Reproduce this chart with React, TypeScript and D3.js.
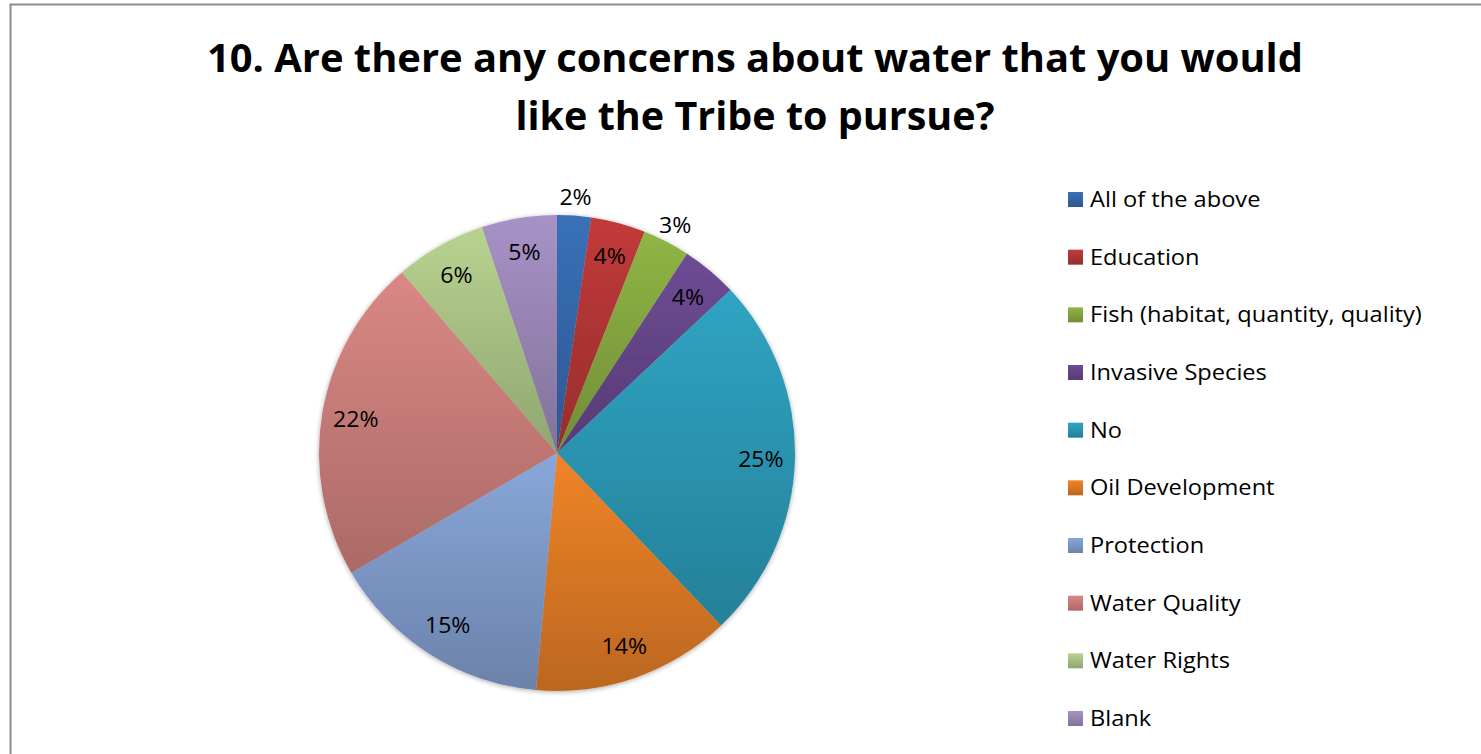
import React from "react";
import * as d3 from "d3";

const categories = [
  "All of the above",
  "Education",
  "Fish (habitat, quantity, quality)",
  "Invasive Species",
  "No",
  "Oil Development",
  "Protection",
  "Water Quality",
  "Water Rights",
  "Blank",
];
const shares = [2.3, 3.7, 3.2, 3.8, 24.9, 13.5, 15.2, 22.1, 6.2, 5.1];
const labels = ["2%", "4%", "3%", "4%", "25%", "14%", "15%", "22%", "6%", "5%"];
const colors = [
  "#3a70b8",
  "#c23a3a",
  "#90b545",
  "#6e4c95",
  "#2fa4c3",
  "#f08428",
  "#89a7da",
  "#da8884",
  "#b8d390",
  "#a792c6",
];
const outsideLabels = ["All of the above", "Fish (habitat, quantity, quality)"];
const titleLines = [
  "10. Are there any concerns about water that you would",
  "like the Tribe to pursue?",
];

const W = 1481;
const H = 754;
const CX = 557;
const CY = 453;
const R = 238;
const FONT = "'Open Sans', Lato, sans-serif";

function darken(c: string, k: number) {
  const col = d3.rgb(c);
  return d3.rgb(col.r * k, col.g * k, col.b * k).formatHex();
}

export default function App() {
  const pie = d3.pie<number>().sort(null).value((d) => d);
  const arcs = pie(shares);
  const arc = d3.arc<d3.PieArcDatum<number>>().innerRadius(0).outerRadius(R);
  const inArc = d3.arc<d3.PieArcDatum<number>>().innerRadius(204).outerRadius(204);
  const outArc = d3.arc<d3.PieArcDatum<number>>().innerRadius(257).outerRadius(257);

  const legendY = d3
    .scalePoint<string>()
    .domain(categories)
    .range([199.5, 718.5]);

  return (
    <svg
      width={W}
      height={H}
      style={{ position: "absolute", left: 0, top: 0, background: "#fff" }}
    >
      <defs>
        {colors.map((c, i) => (
          <linearGradient key={i} id={`g${i}`} x1="0" y1="0" x2="0" y2="1">
            <stop offset="0" stopColor={c} />
            <stop offset="1" stopColor={darken(c, 0.78)} />
          </linearGradient>
        ))}
        <filter id="shadow" x="-20%" y="-20%" width="140%" height="140%">
          <feGaussianBlur in="SourceAlpha" stdDeviation="2.5" />
          <feOffset dx="0" dy="1" result="b" />
          <feComponentTransfer>
            <feFuncA type="linear" slope="0.35" />
          </feComponentTransfer>
          <feMerge>
            <feMergeNode />
            <feMergeNode in="SourceGraphic" />
          </feMerge>
        </filter>
      </defs>
      <rect x={10.5} y={4.5} width={1600} height={900} fill="#fff" stroke="#8c8c8c" strokeWidth={2} />
      {titleLines.map((t, i) => (
        <text
          key={i}
          x={755}
          y={i === 0 ? 72 : 130}
          textAnchor="middle"
          fontFamily={FONT}
          fontWeight="bold"
          fontSize={40}
          fill="#000"
          textLength={i === 0 ? 1096 : 479}
          lengthAdjust="spacingAndGlyphs"
        >
          {t}
        </text>
      ))}
      <g transform={`translate(${CX},${CY})`}>
        <g filter="url(#shadow)">
          {arcs.map((a, i) => (
            <path key={i} d={arc(a) || ""} fill={`url(#g${i})`} />
          ))}
        </g>
        {arcs.map((a, i) => {
          const outside = outsideLabels.includes(categories[i]);
          const [x, y] = (outside ? outArc : inArc).centroid(a);
          return (
            <text
              key={i}
              transform={`translate(${x},${y}) scale(1.05,1)`}
              dy="0.36em"
              textAnchor="middle"
              fontFamily={FONT}
              fontSize={22}
              fill="#000"
            >
              {labels[i]}
            </text>
          );
        })}
      </g>
      {categories.map((c, i) => {
        const y = legendY(c) as number;
        return (
          <g key={c}>
            <rect x={1068} y={y - 7.5} width={15} height={15} fill={`url(#g${i})`} />
            <text
              transform={`translate(1090,${y}) scale(1.125,1)`}
              dy="0.36em"
              fontFamily={FONT}
              fontSize={21}
              fill="#000"
            >
              {c}
            </text>
          </g>
        );
      })}
    </svg>
  );
}
